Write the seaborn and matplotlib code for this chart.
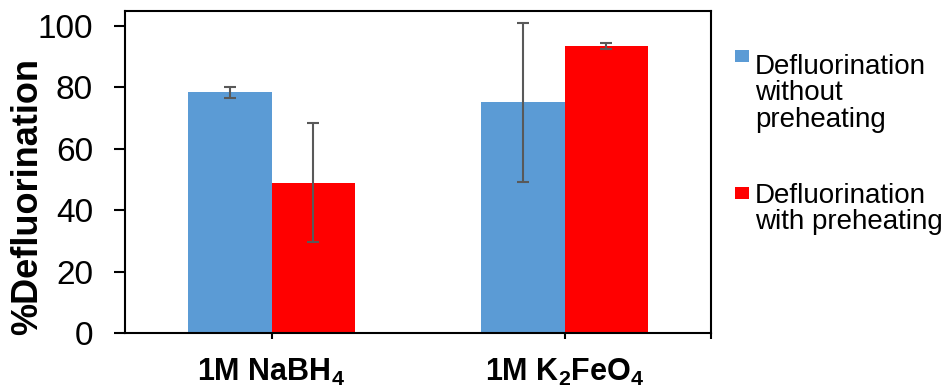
import matplotlib
matplotlib.use("Agg")
import matplotlib.pyplot as plt
import matplotlib.patches as mpatches
import seaborn as sns
import pandas as pd

# Data
categories = ["1M NaBH$_\\mathbf{4}$", "1M K$_\\mathbf{2}$FeO$_\\mathbf{4}$"]
series_names = ["Defluorination\nwithout\npreheating", "Defluorination\nwith preheating"]
without_preheating = [78.4, 75.2]
without_err = [1.7, 25.9]
with_preheating = [49.0, 93.5]
with_err = [19.3, 1.0]
colors = ["#5B9BD5", "#FF0000"]
y_ticks = [0, 20, 40, 60, 80, 100]

sns.set_theme(style="white")
plt.rcParams["font.family"] = ["Liberation Sans", "DejaVu Sans"]
plt.rcParams["mathtext.fontset"] = "custom"
plt.rcParams["mathtext.rm"] = "Liberation Sans:bold"
plt.rcParams["mathtext.bf"] = "Liberation Sans:bold"

df = pd.DataFrame({
    "category": categories * 2,
    "series": [series_names[0]] * 2 + [series_names[1]] * 2,
    "value": without_preheating + with_preheating,
})
errs = {series_names[0]: without_err, series_names[1]: with_err}

fig = plt.figure(figsize=(9.46, 3.87), dpi=100)
ax = fig.add_axes([125 / 946, 1 - 333 / 387, 586 / 946, 322 / 387])

sns.barplot(data=df, x="category", y="value", hue="series",
            order=categories, hue_order=series_names,
            palette=colors, width=0.573, errorbar=None,
            saturation=1, linewidth=0, legend=False, ax=ax)

# Error bars at the centre of each bar
for container, name in zip(ax.containers, series_names):
    xs = [p.get_x() + p.get_width() / 2 for p in container.patches]
    hs = [p.get_height() for p in container.patches]
    ax.errorbar(xs, hs, yerr=errs[name], fmt="none", ecolor="#595959",
                elinewidth=1.5, capsize=4.5, capthick=1.5, zorder=5)

ax.set_xlim(-0.5, 1.5)
ax.set_ylim(0, 104.9)
ax.set_yticks(y_ticks)
ax.set_yticklabels([str(t) for t in y_ticks], fontsize=24, color="black")
ax.set_xticks([0, 1])
ax.set_xticklabels(categories, fontsize=22, fontweight="bold", color="black")
ax.set_xticks([1.5], minor=True)
ax.set_xlabel("")
ax.set_ylabel("%Defluorination", fontsize=26, fontweight="bold", color="black")
ax.yaxis.set_label_coords(-0.1365, 0.425)

for s in ax.spines.values():
    s.set_visible(True)
    s.set_color("black")
    s.set_linewidth(1.5)

ax.tick_params(axis="y", which="major", direction="out", length=8, width=1.5,
               color="black", pad=15, left=True)
ax.tick_params(axis="x", which="both", direction="out", length=4.5, width=1.5,
               color="black", pad=13, bottom=True)

# Legend: square markers with multi-line labels
# (square top, text top) in pixels from the top of the figure
legend_items = [(colors[0], series_names[0], 50, 54), (colors[1], series_names[1], 187, 183)]
for col, label, sq_top, txt_top in legend_items:
    fig.patches.append(mpatches.Rectangle((735 / 946, 1 - (sq_top + 12) / 387),
                                          14 / 946, 12 / 387,
                                          transform=fig.transFigure,
                                          facecolor=col, edgecolor="none"))
    fig.text(755 / 946, 1 - txt_top / 387, label, fontsize=20,
             ha="left", va="top", linespacing=1.02, color="black")

fig.savefig("out.png", dpi=100)
